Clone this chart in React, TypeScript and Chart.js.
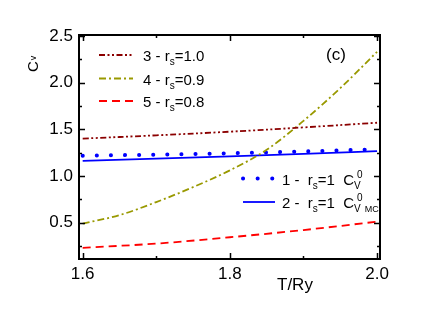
import React, { useEffect, useRef } from "react";
import { Chart, registerables } from "chart.js";

Chart.register(...registerables);

const tGrid = [1.6, 1.7, 1.8, 1.9, 2.0];
const cv1 = [1.217, 1.228, 1.243, 1.262, 1.285];
const cv2 = [1.162, 1.185, 1.21, 1.237, 1.265];
const cv3 = [1.4, 1.435, 1.474, 1.52, 1.57];
const tFine = [1.6, 1.65, 1.7, 1.75, 1.8, 1.85, 1.9, 1.95, 2.0];
const cv4 = [0.49, 0.58, 0.72, 0.88, 1.06, 1.28, 1.59, 1.94, 2.33];
const cv5 = [0.23, 0.275, 0.343, 0.42, 0.51];

const xMajor = [1.6, 1.8, 2.0];
const xMinor = [1.7, 1.9];
const yMajor = [0.5, 1.0, 1.5, 2.0, 2.5];
const yMinor = [0.25, 0.75, 1.25, 1.75, 2.25];

const FONT = "'Liberation Sans', Arial, sans-serif";
const C_DARKRED = "#8b0000";
const C_OLIVE = "#999900";
const C_RED = "#ff0000";
const C_BLUE = "#0000ff";

type Run = { t: string; s: number; dy?: number; dx?: number; back?: boolean };

function drawRuns(ctx: CanvasRenderingContext2D, x: number, y: number, runs: Run[]) {
  let cx = x;
  let lastStart = x;
  for (const r of runs) {
    ctx.font = `${r.s}px ${FONT}`;
    const startX = r.back ? lastStart + (r.dx || 0) : cx + (r.dx || 0);
    ctx.fillText(r.t, startX, y + (r.dy || 0));
    const w = ctx.measureText(r.t).width;
    lastStart = startX;
    cx = Math.max(cx, startX + w);
  }
}

const mk = (xs: number[], ys: number[]) => xs.map((x, i) => ({ x, y: ys[i] }));

const decor = {
  id: "decor",
  afterDraw(chart: any) {
    const ctx: CanvasRenderingContext2D = chart.ctx;
    const xs = chart.scales.x;
    const ys = chart.scales.y;
    const a = chart.chartArea;
    ctx.save();
    // frame
    ctx.strokeStyle = "#000";
    ctx.lineWidth = 2;
    ctx.strokeRect(a.left, a.top, a.right - a.left, a.bottom - a.top);
    ctx.lineWidth = 1.5;
    const tick = (vals: number[], len: number) => {
      for (const v of vals) {
        const px = Math.round(xs.getPixelForValue(v)) + 0.5;
        ctx.beginPath();
        ctx.moveTo(px, a.bottom);
        ctx.lineTo(px, a.bottom - len);
        ctx.moveTo(px, a.top);
        ctx.lineTo(px, a.top + len);
        ctx.stroke();
      }
    };
    const ytick = (vals: number[], len: number) => {
      for (const v of vals) {
        const py = Math.round(ys.getPixelForValue(v)) + 0.5;
        ctx.beginPath();
        ctx.moveTo(a.left, py);
        ctx.lineTo(a.left + len, py);
        ctx.moveTo(a.right, py);
        ctx.lineTo(a.right - len, py);
        ctx.stroke();
      }
    };
    tick(xMajor, 6);
    tick(xMinor, 3);
    ytick(yMajor, 6);
    ytick(yMinor, 3);

    // tick labels
    ctx.fillStyle = "#000";
    ctx.font = `17px ${FONT}`;
    ctx.textAlign = "center";
    ctx.textBaseline = "middle";
    for (const v of xMajor) {
      ctx.fillText(v.toFixed(1), xs.getPixelForValue(v), a.bottom + 15);
    }
    ctx.textAlign = "right";
    for (const v of yMajor) {
      ctx.fillText(v.toFixed(1), a.left - 6, ys.getPixelForValue(v));
    }
    // axis titles
    ctx.textAlign = "left";
    ctx.textBaseline = "alphabetic";
    ctx.font = `17px ${FONT}`;
    ctx.fillText("T/Ry", 277, 290);
    ctx.save();
    ctx.translate(38, 72);
    ctx.rotate(-Math.PI / 2);
    drawRuns(ctx, 0, 0, [
      { t: "C", s: 15 },
      { t: "v", s: 9, dy: -2, dx: 1 },
    ]);
    ctx.restore();
    // (c)
    ctx.font = `17px ${FONT}`;
    ctx.fillText("(c)", 326, 60);

    // legends
    const seg = (x1: number, x2: number, y: number, color: string, dash: number[], cap: CanvasLineCap, w: number) => {
      ctx.save();
      ctx.strokeStyle = color;
      ctx.lineWidth = w;
      ctx.lineCap = cap;
      ctx.setLineDash(dash);
      ctx.beginPath();
      ctx.moveTo(x1, y);
      ctx.lineTo(x2, y);
      ctx.stroke();
      ctx.restore();
    };
    seg(99, 133, 55, C_DARKRED, [6, 2.5, 2, 2.5, 2, 2.5], "butt", 1.8);
    seg(99, 133, 78.5, C_OLIVE, [7, 3, 2, 3], "butt", 1.8);
    seg(99, 133, 101, C_RED, [8, 5], "butt", 1.8);
    const l1 = [
      ["3 - r", "=1.0", 55],
      ["4 - r", "=0.9", 78.5],
      ["5 - r", "=0.8", 101],
    ] as [string, string, number][];
    for (const [p, q, y] of l1) {
      drawRuns(ctx, 143, y + 6, [
        { t: p, s: 15 },
        { t: "s", s: 10, dy: 4 },
        { t: q, s: 15 },
      ]);
    }
    seg(243, 275, 178.5, C_BLUE, [0.1, 14.5], "round", 4);
    seg(243, 275, 202, C_BLUE, [], "butt", 1.8);
    drawRuns(ctx, 282, 184.5, [
      { t: "1 -  r", s: 15 },
      { t: "s", s: 10, dy: 4 },
      { t: "=1  C", s: 15 },
      { t: "V", s: 10, dy: 4 },
      { t: "0", s: 10, dy: -7, dx: 3, back: true },
    ]);
    drawRuns(ctx, 282, 208, [
      { t: "2 -  r", s: 15 },
      { t: "s", s: 10, dy: 4 },
      { t: "=1  C", s: 15 },
      { t: "V", s: 10, dy: 4 },
      { t: "0", s: 10, dy: -7, dx: 3, back: true },
      { t: "MC", s: 9, dy: 4, dx: 2 },
    ]);
    ctx.restore();
  },
};

export default function App() {
  const ref = useRef<HTMLCanvasElement | null>(null);
  useEffect(() => {
    if (!ref.current) return;
    const chart = new Chart(ref.current, {
      type: "line",
      data: {
        datasets: [
          {
            label: "3 - rs=1.0",
            data: mk(tGrid, cv3),
            borderColor: C_DARKRED,
            borderWidth: 1.8,
            borderDash: [6, 2.5, 2, 2.5, 2, 2.5],
            pointRadius: 0,
            tension: 0.4,
          },
          {
            label: "4 - rs=0.9",
            data: mk(tFine, cv4),
            borderColor: C_OLIVE,
            borderWidth: 1.8,
            borderDash: [7, 3, 2, 3],
            pointRadius: 0,
            cubicInterpolationMode: "monotone",
          },
          {
            label: "5 - rs=0.8",
            data: mk(tGrid, cv5),
            borderColor: C_RED,
            borderWidth: 1.8,
            borderDash: [8, 5],
            pointRadius: 0,
            cubicInterpolationMode: "monotone",
          },
          {
            label: "1 - rs=1 Cv0",
            data: mk(tGrid, cv1),
            borderColor: C_BLUE,
            borderWidth: 4,
            borderDash: [0.1, 14],
            borderCapStyle: "round",
            pointRadius: 0,
            cubicInterpolationMode: "monotone",
          },
          {
            label: "2 - rs=1 Cv0MC",
            data: mk(tGrid, cv2),
            borderColor: C_BLUE,
            borderWidth: 1.8,
            pointRadius: 0,
            cubicInterpolationMode: "monotone",
          },
        ],
      } as any,
      options: {
        responsive: false,
        animation: false,
        maintainAspectRatio: false,
        layout: { padding: { left: 79, right: 62, top: 35, bottom: 53 } },
        plugins: { legend: { display: false }, tooltip: { enabled: false } },
        scales: {
          x: { type: "linear", min: 1.595, max: 2.004, display: false },
          y: { type: "linear", min: 0.11, max: 2.51, display: false },
        },
      },
      plugins: [decor],
    });
    return () => chart.destroy();
  }, []);
  return (
    <div style={{ position: "absolute", left: 0, top: 0, width: 442, height: 312, background: "#fff" }}>
      <canvas ref={ref} width={442} height={312} style={{ display: "block" }} />
    </div>
  );
}
